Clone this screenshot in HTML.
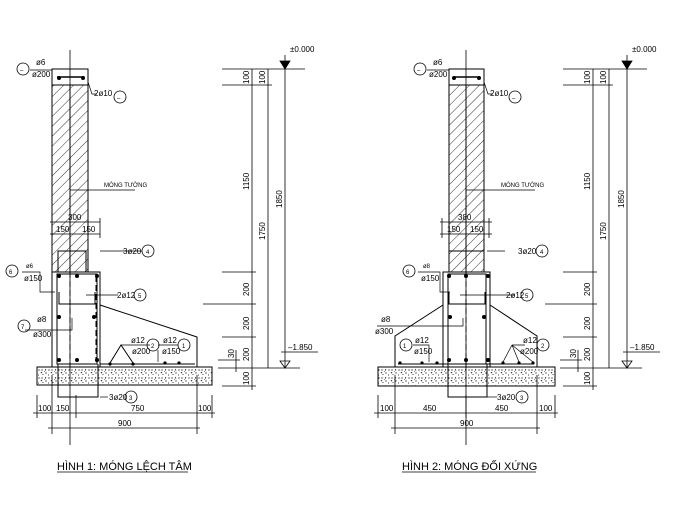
<!DOCTYPE html>
<html><head><meta charset="utf-8"><style>
html,body{margin:0;padding:0;background:#fff;}
svg{display:block;}
text{font-family:"Liberation Sans",sans-serif;fill:#000;}
.t{font-size:8px;}
.s{font-size:6px;}
</style></head><body>
<svg width="680" height="507" viewBox="0 0 680 507" xmlns="http://www.w3.org/2000/svg">
<defs>
<pattern id="h" width="7" height="7" patternUnits="userSpaceOnUse" patternTransform="rotate(45)">
<line x1="0" y1="0" x2="0" y2="7" stroke="#000" stroke-width="0.8"/>
</pattern>
<pattern id="c" width="10" height="8" patternUnits="userSpaceOnUse">
<circle cx="2" cy="2" r="0.6"/><circle cx="6" cy="5" r="0.6"/><circle cx="9" cy="2" r="0.6"/><circle cx="3" cy="6.5" r="0.5"/><circle cx="8.5" cy="7" r="0.5"/><path d="M5 1 l1.5 1 l-1.5 .6z"/><path d="M0.5 4 l1 1.5 l1-1z"/><circle cx="4.5" cy="3.5" r="0.4"/>
</pattern>
</defs>
<g stroke="#000" stroke-width="1" fill="none">

<!-- ================= FIG 1 ================= -->
<line x1="70" y1="50" x2="70" y2="445" stroke-width="0.8"/>
<rect x="52" y="69" width="36" height="16"/>
<rect x="52" y="85" width="36" height="187" fill="url(#h)"/>
<path d="M57 77 h27" stroke-width="1.5"/>
<line x1="70" y1="85" x2="70" y2="272"/>
<rect x="58" y="251" width="28" height="21"/>
<rect x="52" y="272" width="48" height="95"/>
<rect x="57" y="274" width="40" height="90"/>
<line x1="96" y1="276" x2="96" y2="362" stroke-dasharray="6,3"/>
<line x1="70" y1="272" x2="70" y2="367" stroke-dasharray="6,3"/>
<path d="M59 292 v12 h36 v-12" />
<path d="M100 305 L197 337 V367"/>
<line x1="100" y1="364" x2="195" y2="364"/>
<path d="M110 363 L121 345 L133 363"/>
<rect x="37" y="367" width="175" height="18" fill="url(#c)"/>
<path d="M58 364 V397 H98 V364"/>
<g stroke-width="0.8">
<line x1="37" y1="395" x2="37" y2="418"/><line x1="52" y1="375" x2="52" y2="434"/>
<line x1="76" y1="395" x2="76" y2="418"/><line x1="197" y1="375" x2="197" y2="434"/>
<line x1="212" y1="395" x2="212" y2="418"/>
<line x1="33" y1="413" x2="215" y2="413"/>
<line x1="48" y1="428" x2="200" y2="428"/>
</g>
<g stroke-width="0.8">
<line x1="50" y1="222" x2="100" y2="222"/><line x1="50" y1="234" x2="100" y2="234"/>
<line x1="52" y1="218" x2="52" y2="238"/><line x1="100" y1="218" x2="100" y2="238"/>
</g>
<g stroke-width="0.7">
<path d="M30 70 H52 V77"/><path d="M88 82 L92 94 H97"/>
<line x1="70" y1="190" x2="135" y2="190"/>
<line x1="100" y1="251" x2="142" y2="251"/>
<path d="M22 272 H40 V292 H55"/>
<line x1="86" y1="295" x2="118" y2="295"/>
<path d="M25 330 H72 V318"/>
<line x1="100" y1="397" x2="108" y2="397"/>
<path d="M121 345 H150"/><path d="M158 350 V362"/><path d="M158 345 H178"/>
</g>
<g fill="#000" stroke="none">
<circle cx="59" cy="276" r="2"/><circle cx="77" cy="276" r="2"/><circle cx="97" cy="276" r="2"/>
<circle cx="59" cy="360" r="2"/><circle cx="77" cy="360" r="2"/><circle cx="97" cy="360" r="2"/>
<circle cx="59" cy="317" r="2"/><circle cx="94" cy="317" r="2"/>
<circle cx="110" cy="364" r="1.6"/><circle cx="133" cy="364" r="1.6"/><circle cx="165" cy="363" r="1.6"/><circle cx="179" cy="363" r="1.6"/>
<circle cx="59" cy="78" r="2"/><circle cx="83" cy="78" r="2"/>
</g>
<g stroke-width="0.8">
<line x1="252" y1="69" x2="252" y2="390"/><line x1="268" y1="69" x2="268" y2="368"/><line x1="285" y1="55" x2="285" y2="368"/>
<line x1="222" y1="69" x2="305" y2="69"/><line x1="222" y1="85" x2="272" y2="85"/>
<line x1="222" y1="272" x2="256" y2="272"/><line x1="203" y1="304" x2="256" y2="304"/>
<line x1="222" y1="337" x2="256" y2="337"/><line x1="218" y1="368" x2="300" y2="368"/>
<line x1="222" y1="386" x2="256" y2="386"/><line x1="218" y1="360" x2="240" y2="360"/>
<line x1="236" y1="350" x2="236" y2="372"/>
<line x1="281" y1="352" x2="318" y2="352"/>
<path d="M280 61 L290 61 L285 69Z" fill="#000"/>
<path d="M280 361 L290 361 L285 368Z"/>
</g>

<!-- ================= FIG 2 ================= -->
<line x1="466" y1="50" x2="466" y2="445" stroke-width="0.8"/>
<rect x="449" y="69" width="35" height="16"/>
<rect x="449" y="85" width="35" height="187" fill="url(#h)"/>
<path d="M453 77 h27" stroke-width="1.5"/>
<line x1="466" y1="85" x2="466" y2="272"/>
<rect x="449" y="251" width="35" height="21"/>
<rect x="443" y="272" width="47" height="95"/>
<rect x="448" y="274" width="38" height="90"/>
<line x1="466" y1="272" x2="466" y2="367" stroke-dasharray="6,3"/>
<path d="M449 292 v12 h36 v-12"/>
<path d="M443 305 L395 336 V367"/>
<path d="M490 305 L537 336 V367"/>
<line x1="398" y1="364" x2="534" y2="364"/>
<rect x="378" y="367" width="177" height="19" fill="url(#c)"/>
<path d="M448 364 V397 H487 V364"/>
<g stroke-width="0.8">
<line x1="378" y1="395" x2="378" y2="418"/><line x1="395" y1="375" x2="395" y2="434"/>
<line x1="466" y1="395" x2="466" y2="418"/><line x1="537" y1="375" x2="537" y2="434"/>
<line x1="555" y1="395" x2="555" y2="418"/>
<line x1="374" y1="413" x2="558" y2="413"/>
<line x1="391" y1="428" x2="540" y2="428"/>
<line x1="440" y1="222" x2="492" y2="222"/><line x1="440" y1="234" x2="492" y2="234"/>
<line x1="442" y1="218" x2="442" y2="238"/><line x1="489" y1="218" x2="489" y2="238"/>
</g>
<g stroke-width="0.7">
<path d="M427 70 H449 V77"/><path d="M484 82 L488 94 H493"/>
<line x1="466" y1="190" x2="535" y2="190"/>
<line x1="487" y1="251" x2="505" y2="251"/>
<path d="M418 272 H440 V292 H450"/>
<line x1="460" y1="295" x2="515" y2="295"/>
<path d="M377 326 H463 V318"/>
<line x1="487" y1="397" x2="497" y2="397"/>
<path d="M413 345 H429 V362"/>
<path d="M512 345 H525 M512 345 L503 362 M512 345 L519 362 M512 345 L533 362"/>
</g>
<g fill="#000" stroke="none">
<circle cx="449" cy="276" r="2"/><circle cx="466" cy="276" r="2"/><circle cx="488" cy="276" r="2"/>
<circle cx="449" cy="360" r="2"/><circle cx="466" cy="360" r="2"/><circle cx="488" cy="360" r="2"/>
<circle cx="450" cy="317" r="2"/><circle cx="484" cy="317" r="2"/>
<circle cx="400" cy="363" r="1.6"/><circle cx="422" cy="363" r="1.6"/><circle cx="437" cy="363" r="1.6"/>
<circle cx="503" cy="363" r="1.6"/><circle cx="519" cy="363" r="1.6"/><circle cx="533" cy="363" r="1.6"/>
<circle cx="454" cy="78" r="2"/><circle cx="479" cy="78" r="2"/>
</g>
<g stroke-width="0.8">
<line x1="593" y1="69" x2="593" y2="390"/><line x1="609" y1="69" x2="609" y2="368"/><line x1="627" y1="55" x2="627" y2="368"/>
<line x1="563" y1="69" x2="647" y2="69"/><line x1="563" y1="85" x2="613" y2="85"/>
<line x1="563" y1="272" x2="597" y2="272"/><line x1="545" y1="304" x2="597" y2="304"/>
<line x1="563" y1="337" x2="597" y2="337"/><line x1="560" y1="368" x2="642" y2="368"/>
<line x1="563" y1="386" x2="597" y2="386"/><line x1="560" y1="360" x2="582" y2="360"/>
<line x1="578" y1="350" x2="578" y2="372"/>
<line x1="623" y1="352" x2="660" y2="352"/>
<path d="M622 61 L632 61 L627 69Z" fill="#000"/>
<path d="M622 361 L632 361 L627 368Z"/>
</g>

<g stroke-width="0.8">
<circle cx="23" cy="69" r="6"/><circle cx="120" cy="97" r="6"/><circle cx="148" cy="251" r="6"/>
<circle cx="12" cy="271" r="6"/><circle cx="140" cy="295" r="6"/><circle cx="24" cy="326" r="6"/>
<circle cx="153" cy="345" r="6"/><circle cx="184" cy="345" r="6"/><circle cx="131" cy="397" r="6"/>
<circle cx="420" cy="69" r="6"/><circle cx="515" cy="97" r="6"/><circle cx="542" cy="251" r="6"/>
<circle cx="409" cy="271" r="6"/><circle cx="527" cy="295" r="6"/><circle cx="406" cy="345" r="6"/>
<circle cx="543" cy="345" r="6"/><circle cx="522" cy="397" r="6"/>
</g>
<line x1="57" y1="472" x2="188" y2="472" stroke-width="0.8"/>
<line x1="402" y1="472" x2="536" y2="472" stroke-width="0.8"/>
</g>

<g class="t">
<text x="36" y="65">ø6</text><text x="32" y="77">ø200</text>
<text x="20" y="72" class="s">–</text>
<text x="94" y="96">2ø10</text><text x="117" y="100" class="s">–</text>
<text x="104" y="187" class="s">MÓNG TƯỜNG</text>
<text x="68" y="220">300</text><text x="56" y="232">150</text><text x="82" y="232">150</text>
<text x="123" y="254">3ø20</text><text x="146" y="254" class="s">4</text>
<text x="9" y="274" class="s">6</text><text x="26" y="268" class="s">ø6</text><text x="24" y="281">ø150</text>
<text x="117" y="298">2ø12</text><text x="138" y="298" class="s">5</text>
<text x="21" y="329" class="s">7</text><text x="37" y="322">ø8</text><text x="33" y="337">ø300</text>
<text x="131" y="343">ø12</text><text x="132" y="354">ø200</text><text x="151" y="348" class="s">2</text>
<text x="163" y="343">ø12</text><text x="162" y="354">ø150</text><text x="182" y="348" class="s">1</text>
<text x="109" y="400">3ø20</text><text x="129" y="400" class="s">3</text>
<text x="38" y="411">100</text><text x="56" y="411">150</text><text x="131" y="411">750</text><text x="198" y="411">100</text>
<text x="118" y="426">900</text>
<text x="290" y="52">±0.000</text><text x="288" y="350">–1.850</text>
</g>
<g class="t">
<text transform="translate(249,84) rotate(-90)">100</text>
<text transform="translate(265,84) rotate(-90)">100</text>
<text transform="translate(249,190) rotate(-90)">1150</text>
<text transform="translate(265,240) rotate(-90)">1750</text>
<text transform="translate(282,208) rotate(-90)">1850</text>
<text transform="translate(249,296) rotate(-90)">200</text>
<text transform="translate(249,330) rotate(-90)">200</text>
<text transform="translate(249,361) rotate(-90)">200</text>
<text transform="translate(234,358) rotate(-90)">30</text>
<text transform="translate(249,385) rotate(-90)">100</text>
</g>
<g class="t">
<text x="433" y="65">ø6</text><text x="429" y="77">ø200</text>
<text x="417" y="72" class="s">–</text>
<text x="490" y="96">2ø10</text><text x="512" y="100" class="s">–</text>
<text x="501" y="187" class="s">MÓNG TƯỜNG</text>
<text x="458" y="220">380</text><text x="447" y="232">150</text><text x="470" y="232">150</text>
<text x="518" y="254">3ø20</text><text x="540" y="254" class="s">4</text>
<text x="406" y="274" class="s">6</text><text x="423" y="268" class="s">ø8</text><text x="421" y="281">ø150</text>
<text x="506" y="298">2ø12</text><text x="525" y="298" class="s">5</text>
<text x="381" y="322">ø8</text><text x="375" y="334">ø300</text>
<text x="403" y="348" class="s">1</text><text x="415" y="343">ø12</text><text x="414" y="354">ø150</text>
<text x="523" y="343">ø12</text><text x="520" y="354">ø200</text><text x="541" y="348" class="s">2</text>
<text x="497" y="400">3ø20</text><text x="520" y="400" class="s">3</text>
<text x="380" y="411">100</text><text x="423" y="411">450</text><text x="495" y="411">450</text><text x="539" y="411">100</text>
<text x="460" y="426">900</text>
<text x="632" y="52">±0.000</text><text x="630" y="350">–1.850</text>
</g>
<g class="t">
<text transform="translate(590,84) rotate(-90)">100</text>
<text transform="translate(606,84) rotate(-90)">100</text>
<text transform="translate(590,190) rotate(-90)">1150</text>
<text transform="translate(606,240) rotate(-90)">1750</text>
<text transform="translate(624,208) rotate(-90)">1850</text>
<text transform="translate(590,296) rotate(-90)">200</text>
<text transform="translate(590,330) rotate(-90)">200</text>
<text transform="translate(590,361) rotate(-90)">200</text>
<text transform="translate(576,358) rotate(-90)">30</text>
<text transform="translate(590,385) rotate(-90)">100</text>
</g>
<text x="57" y="470" style="font-size:11px">HÌNH 1: MÓNG LỆCH TÂM</text>
<text x="402" y="470" style="font-size:11px">HÌNH 2: MÓNG ĐỐI XỨNG</text>
</svg>
</body></html>
